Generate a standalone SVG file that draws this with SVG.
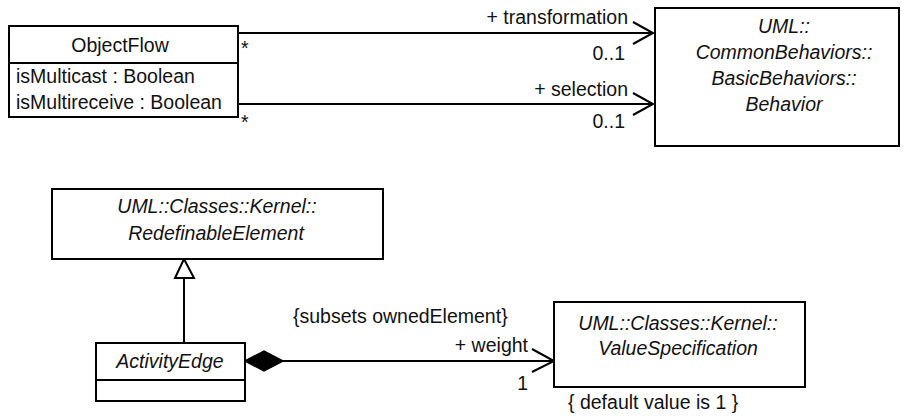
<svg xmlns="http://www.w3.org/2000/svg" width="904" height="418" viewBox="0 0 904 418">
<style>
.box{fill:#fff;stroke:#000;stroke-width:2}
.ln{fill:none;stroke:#000;stroke-width:2}
text{font-family:"Liberation Sans",Arial,sans-serif;font-size:19.5px;fill:#111}
.it{font-style:italic}
.m{text-anchor:middle}
.e{text-anchor:end}
</style>
<rect width="904" height="418" fill="#fff"/>
<g id="connectors">
<path class="ln" d="M238,33H653M633,22L653,33L633,44"/>
<path class="ln" d="M238,104H653M633,93L653,104L633,115"/>
<path class="ln" d="M184,278V343"/>
<polygon points="184,259 175,278 194,278" fill="#fff" stroke="#000" stroke-width="2"/>
<path class="ln" d="M283,361H554M532,349L554,361L532,372"/>
<polygon points="245,361 264,351 283,361 264,371" fill="#000" stroke="#000" stroke-width="1.5"/>
<text class="e" x="628" y="24">+ transformation</text>
<text class="e" x="625" y="60">0..1</text>
<text x="241" y="55">*</text>
<text class="e" x="628" y="96">+ selection</text>
<text class="e" x="625" y="128">0..1</text>
<text x="241" y="129">*</text>
<text x="293" y="323">{subsets ownedElement}</text>
<text class="e" x="528" y="352">+ weight</text>
<text class="e" x="528" y="390">1</text>
</g>
<g id="ObjectFlow">
<rect class="box" x="9" y="26" width="229" height="91"/>
<path class="ln" d="M9,63H238"/>
<text class="m" x="120" y="52">ObjectFlow</text>
<text x="16" y="83">isMulticast : Boolean</text>
<text x="16" y="109">isMultireceive : Boolean</text>
</g>
<g id="Behavior">
<rect class="box" x="655" y="8" width="244" height="138"/>
<text class="m it" x="784" y="33">UML::</text>
<text class="m it" x="784" y="59">CommonBehaviors::</text>
<text class="m it" x="784" y="85">BasicBehaviors::</text>
<text class="m it" x="784" y="111">Behavior</text>
</g>
<g id="RedefinableElement">
<rect class="box" x="52" y="189" width="331" height="70"/>
<text class="m it" x="217" y="213">UML::Classes::Kernel::</text>
<text class="m it" x="216" y="240">RedefinableElement</text>
</g>
<g id="ActivityEdge">
<rect class="box" x="96" y="343" width="149" height="58"/>
<path class="ln" d="M96,380H245"/>
<text class="m it" x="170" y="368">ActivityEdge</text>
</g>
<g id="ValueSpecification">
<rect class="box" x="554" y="302" width="251" height="85"/>
<text class="m it" x="678" y="330">UML::Classes::Kernel::</text>
<text class="m it" x="678" y="355">ValueSpecification</text>
<text x="568" y="409">{ default value is 1 }</text>
</g>
</svg>
